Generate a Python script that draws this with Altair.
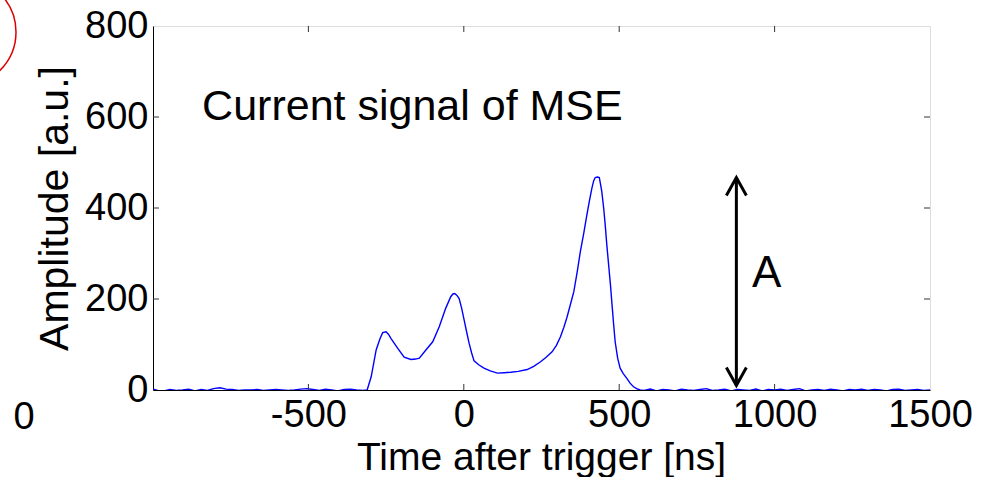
import altair as alt
import pandas as pd

# ---- data -------------------------------------------------------------
time_ns = [
    -1000, -985, -965, -945, -925, -905, -885, -865, -845, -825, -805, -785,
    -765, -745, -725, -705, -685, -665, -645, -625, -605, -585, -565, -545,
    -525, -505, -485, -465, -445, -425, -405, -385, -365, -345, -325, -311,
    -298, -282, -270, -261, -250, -242, -234, -213, -192, -170, -155, -143,
    -122, -100, -79, -58, -42, -35, -29, -22, -15, -7, 1, 9, 17, 25, 33, 49,
    65, 85, 108, 130, 151, 175, 204, 225, 247, 265, 284, 298, 311, 322, 332,
    343, 354, 365, 375, 386, 396, 404, 412, 418, 423, 430, 436, 440, 444, 450,
    455, 460, 466, 472, 477, 482, 487, 495, 503, 513, 524, 535, 546, 556, 567,
    580, 600, 620, 640, 660, 680, 700, 720, 740, 760, 780, 800, 820, 840, 860,
    880, 900, 920, 940, 960, 980, 1000, 1020, 1040, 1060, 1080, 1100, 1120,
    1140, 1160, 1180, 1200, 1220, 1240, 1260, 1280, 1300, 1320, 1340, 1360,
    1380, 1400, 1420, 1440, 1460, 1480, 1500,
]
amplitude = [
    2, -1, -2, 1, -1, 0, 2, -2, 1, -1, 3, 5,
    2, 1, -1, 0, 0, 1, -1, 0, 1, 0, -1, 0,
    2, 3, 1, -1, 2, 0, -2, 1, 2, 0, -1, 0,
    29, 88, 112, 126, 128, 122, 113, 92, 72, 67, 68, 70,
    88, 106, 139, 180, 205, 211, 212, 208, 201, 180, 154, 128, 103, 82, 64, 55,
    48, 42, 37, 38, 39, 41, 45, 52, 62, 72, 84, 98, 117, 138, 160,
    188, 216, 260, 304, 345, 385, 415, 443, 460, 467, 468, 467, 452, 436, 400,
    363, 320, 275, 230, 187, 145, 106, 70, 48, 36, 26, 15, 7, 3, 0,
    -1, 2, -2, 1, 0, -2, 2, 0, -1, 1, 3, -1, 0, 2, -2,
    1, 0, -1, 2, -2, 1, 0, 2, -1, 1, 3, -2, 0,
    1, -1, 2, 0, -2, 1, 0, 2, -1, 1, 0, -2,
    1, 2, -1, 0, 1, -1, 0,
]

x_tick_values = [-500, 0, 500, 1000, 1500]
y_tick_values = [0, 200, 400, 600, 800]
inner_x_ticks = [-500, 0, 500, 1000]
inner_y_ticks = [200, 400, 600]

annotation_text = ["Current signal of MSE"]
annotation_x = [-842]
annotation_y = [593]

arrow_x = [877]
arrow_top = [467]
arrow_bottom = [10]
arrow_label = ["A"]
arrow_label_x = [927]
arrow_label_y = [226]

# ---- chart ------------------------------------------------------------
W, H = 777, 364
FONT = "Liberation Sans"

sig = pd.DataFrame({"t": time_ns, "a": amplitude})
xs = alt.Scale(domain=[-1000, 1500], nice=False, zero=False)
ys = alt.Scale(domain=[0, 800], nice=False)

x_axis = alt.Axis(
    values=x_tick_values, ticks=False, grid=False, labelPadding=36,
    labelExpr="'' + datum.value",
    labelBaseline="alphabetic", labelFontSize=38, labelFont=FONT,
    labelColor="black", domainColor="black", labelFlush=False,
    title="Time after trigger [ns]", titleFontSize=39, titleFont=FONT,
    titleFontWeight="normal", titleColor="black", titleX=388, titleY=79,
    titleBaseline="alphabetic", titleAlign="center",
)
y_axis = alt.Axis(
    values=y_tick_values, ticks=False, grid=False, labelPadding=5,
    labelExpr="'' + datum.value",
    labelFontSize=38, labelFont=FONT, labelColor="black", domainColor="black",
    labelFlush=False,
    title="Amplitude [a.u.]", titleFontSize=41, titleFont=FONT,
    titleFontWeight="normal", titleColor="black", titleX=-98, titleY=182,
    titleBaseline="middle", titleAlign="center", titleAngle=-90,
)

line = alt.Chart(sig).mark_line(color="#0000ff", strokeWidth=1.4, clip=True).encode(
    x=alt.X("t:Q", scale=xs, axis=x_axis),
    y=alt.Y("a:Q", scale=ys, axis=y_axis),
)

xt = pd.DataFrame({"t": inner_x_ticks})
yt = pd.DataFrame({"a": inner_y_ticks})
tick_style = dict(color="#333333", strokeWidth=1)
xtick_b = alt.Chart(xt).mark_rule(**tick_style).encode(
    x="t:Q", y=alt.value(H), y2=alt.value(H - 6))
xtick_t = alt.Chart(xt).mark_rule(**tick_style).encode(
    x="t:Q", y=alt.value(0), y2=alt.value(6))
ytick_l = alt.Chart(yt).mark_rule(**tick_style).encode(
    y="a:Q", x=alt.value(0), x2=alt.value(6))
ytick_r = alt.Chart(yt).mark_rule(**tick_style).encode(
    y="a:Q", x=alt.value(W), x2=alt.value(W - 6))

ann = pd.DataFrame({"x": annotation_x, "y": annotation_y, "txt": annotation_text})
ann_text = alt.Chart(ann).mark_text(
    align="left", baseline="alphabetic", fontSize=43, font=FONT, color="black"
).encode(x="x:Q", y="y:Q", text="txt:N")

arr = pd.DataFrame({"x": arrow_x, "top": arrow_top, "bottom": arrow_bottom})
arrow_shaft = alt.Chart(arr).mark_rule(color="black", strokeWidth=3).encode(
    x="x:Q", y="top:Q", y2="bottom:Q")
head_top = alt.Chart(arr).mark_point(
    shape="M-1,1.8L0,0L1,1.8", size=400, filled=False, color="black",
    strokeWidth=3, opacity=1
).encode(x="x:Q", y="top:Q")
head_bot = alt.Chart(arr).mark_point(
    shape="M-1,-1.8L0,0L1,-1.8", size=400, filled=False, color="black",
    strokeWidth=3, opacity=1
).encode(x="x:Q", y="bottom:Q")

albl = pd.DataFrame({"x": arrow_label_x, "y": arrow_label_y, "txt": arrow_label})
a_text = alt.Chart(albl).mark_text(
    align="left", baseline="alphabetic", fontSize=44, font=FONT, color="black"
).encode(x="x:Q", y="y:Q", text="txt:N")

# stray elements at the left edge of the original figure
one = pd.DataFrame({"k": [0]})
stray_zero = alt.Chart(one).mark_text(
    fontSize=38, font=FONT, color="black", baseline="middle", align="center"
).encode(x=alt.value(-129), y=alt.value(392), text=alt.value("0"))
red_circle = alt.Chart(one).mark_point(
    shape="circle", size=11664, filled=False, color="#dd0000",
    strokeWidth=1.5, opacity=1
).encode(x=alt.value(-191), y=alt.value(6))

chart = alt.layer(
    line, xtick_b, xtick_t, ytick_l, ytick_r, ann_text, arrow_shaft,
    head_top, head_bot, a_text, stray_zero, red_circle,
).properties(
    width=W, height=H,
    autosize=alt.AutoSizeParams(type="none"),
    padding={"left": 153, "top": 26, "right": 62, "bottom": 87},
).configure_view(
    stroke="#222222", strokeWidth=1
).configure(background="white")

chart.save("out.html", embed_options={"renderer": "svg", "actions": False})
